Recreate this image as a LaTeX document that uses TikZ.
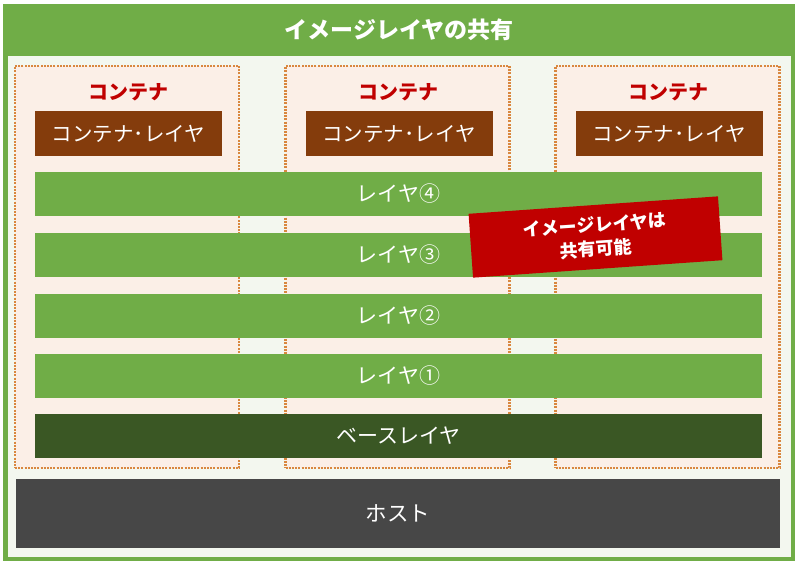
\documentclass[tikz,border=0pt]{standalone}
\usepackage{fontspec}
\setmainfont{Noto Sans CJK JP}
\definecolor{frameg}{HTML}{70AD47}
\definecolor{inner}{HTML}{F3F7EF}
\definecolor{peach}{HTML}{FBEFE7}
\definecolor{dotc}{HTML}{D9873F}
\definecolor{brownc}{HTML}{843C0C}
\definecolor{baseg}{HTML}{3A5724}
\definecolor{hostc}{HTML}{474747}
\definecolor{redc}{HTML}{C00000}
\tikzset{
  box/.style={rectangle, inner sep=0pt, draw=none},
  layerbar/.style={box, fill=frameg, text=white, font=\fontsize{21}{24}\selectfont, minimum width=727pt, minimum height=44pt},
  cbox/.style={box, fill=peach, draw=dotc, line width=2.2pt, dash pattern=on 2pt off 1.2pt, minimum width=224pt, minimum height=402pt},
  clayer/.style={box, fill=brownc, text=white, font=\fontsize{20.5}{24}\selectfont, minimum width=187pt, minimum height=45pt},
  ctitle/.style={text=redc, font=\bfseries\fontsize{20}{22}\selectfont, inner sep=0pt},
}
\begin{document}
\begin{tikzpicture}[x=1pt,y=-1pt]
\useasboundingbox (0,0) rectangle (800,566);
\fill[white] (0,0) rectangle (800,566);
% frame
\node[box, fill=frameg, minimum width=792pt, minimum height=557pt] (frame) at (399,282.5) {};
\node[box, fill=inner, minimum width=783pt, minimum height=501pt] (inside) at (399.5,306.5) {};
\node[text=white, font=\bfseries\fontsize{23}{26}\selectfont, inner sep=0pt] (title) at (399,30) {イメージレイヤの共有};
% containers
\foreach \i/\cx in {1/127, 2/397.5, 3/667.5} {
  \node[cbox] (c\i) at (\cx,267) {};
  \node[ctitle] (ct\i) at (\cx+1,92) {コンテナ};
  \node[clayer] (cl\i) at (\cx+1.5,133.5) {コンテナ･レイヤ};
}
% layers
\node[layerbar] (l4) at (398.5,194) {レイヤ④};
\node[layerbar] (l3) at (398.5,255) {レイヤ③};
\node[layerbar] (l2) at (398.5,315.5) {レイヤ②};
\node[layerbar] (l1) at (398.5,376) {レイヤ①};
\node[layerbar, fill=baseg] (base) at (398.5,436) {ベースレイヤ};
\node[box, fill=hostc, text=white, font=\fontsize{21.5}{24}\selectfont, minimum width=764pt, minimum height=69pt] (host) at (398,513.5) {ホスト};
% red label
\node[box, fill=redc, text=white, font=\bfseries\fontsize{18}{24}\selectfont, align=center, minimum width=250pt, minimum height=64pt, rotate=4] (share) at (595.5,237) {イメージレイヤは\\共有可能};
\end{tikzpicture}
\end{document}
